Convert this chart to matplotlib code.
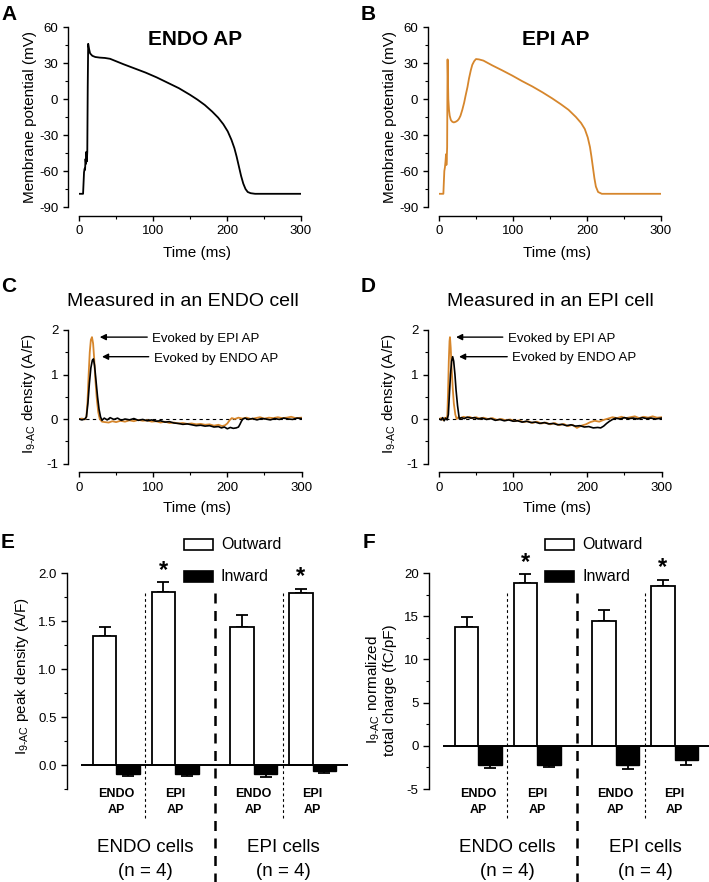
import numpy as np
import matplotlib
matplotlib.use("Agg")
import matplotlib.pyplot as plt
from matplotlib.patches import Rectangle
from matplotlib.ticker import MultipleLocator

W, H = 709, 882
ORANGE = "#d6862c"

# action potential waveforms (time ms, membrane potential mV)
ENDO_AP = [
    (0, -79), (5.5, -79), (6.0, -72), (6.8, -61), (7.6, -58), (8.2, -59), (8.8, -50),
    (9.4, -54), (10.0, -44), (10.6, -52), (11.2, -44), (11.8, 10), (12.4, 46), (13.5, 42),
    (15, 38), (18, 36), (22, 35), (28, 34.5), (35, 34.2), (42, 33.5), (50, 31.5), (60, 29),
    (75, 25.5), (90, 22), (105, 18), (120, 13.5), (135, 9), (150, 3.5), (160, -0.5),
    (170, -5), (180, -10.5), (188, -15.5), (195, -21), (201, -27), (206, -34), (210, -41),
    (213, -48), (216, -56), (219, -64), (222, -70.5), (225, -75), (228, -77.5),
    (232, -78.5), (238, -79), (250, -79), (300, -79),
]
EPI_AP = [
    (0, -79), (5.9, -79), (6.5, -70), (7.2, -60), (8.0, -57), (8.8, -52), (9.5, -46),
    (10.0, -55), (10.5, -50), (11.0, -40), (11.3, 0), (11.6, 33), (12.0, 20), (12.6, 0),
    (13.5, -9), (14.5, -14), (16, -17.5), (18, -19), (20, -19.5), (22.5, -19), (25, -18),
    (27, -16.5), (29, -14), (31.5, -9), (34, -3), (36, 3), (38.5, 10), (40.5, 17),
    (43, 24), (45, 28.5), (47.5, 31.5), (50, 33.3), (54, 33), (60, 32), (72, 28),
    (85, 24), (99, 19.5), (112, 15), (126, 10.5), (140, 5.5), (153, 0.5), (165, -4.5),
    (175, -9), (185, -15), (192, -20), (197, -25), (201, -32), (204, -40), (206, -48),
    (208, -57), (210, -66), (212, -73), (215, -77.5), (220, -79), (235, -79), (300, -79),
]

# I9-AC current traces (time ms, A/F)
C_ENDO = [
    (0, 0), (4, -0.02), (8, 0.0), (10, 0.05), (12, 0.35), (14, 0.8), (16, 1.15), (18, 1.32),
    (19.5, 1.35), (21, 1.2), (23, 0.85), (25, 0.5), (27, 0.22), (29, 0.05), (31, -0.03),
    (34, 0.02), (38, -0.02), (42, 0.03), (47, -0.01), (52, 0.02), (57, -0.03), (62, 0.0),
    (68, -0.02), (74, 0.01), (80, -0.03), (86, -0.01), (92, -0.04), (98, -0.02),
    (104, -0.05), (110, -0.04), (116, -0.07), (122, -0.06), (128, -0.09), (134, -0.1),
    (140, -0.12), (146, -0.11), (152, -0.13), (158, -0.15), (164, -0.14), (170, -0.16),
    (176, -0.15), (182, -0.18), (188, -0.17), (192, -0.2), (196, -0.18), (200, -0.22),
    (204, -0.19), (208, -0.21), (212, -0.2), (215, -0.18), (217, -0.12), (219, -0.05),
    (221, 0.0), (224, 0.02), (228, -0.01), (234, 0.01), (240, -0.02), (246, 0.01),
    (252, 0.0), (258, -0.02), (264, 0.01), (270, -0.01), (276, 0.02), (282, 0.0),
    (288, -0.01), (294, 0.02), (300, 0.01),
]
C_EPI = [
    (0, 0), (4, 0.01), (8, -0.01), (10, 0.05), (11.5, 0.4), (13, 1.0), (14.5, 1.5),
    (16, 1.78), (17.5, 1.84), (19, 1.7), (20.5, 1.35), (22, 0.9), (24, 0.45), (26, 0.15),
    (28, 0.0), (31, -0.06), (35, -0.07), (40, -0.08), (45, -0.05), (50, -0.07), (56, -0.04),
    (62, -0.06), (68, -0.03), (74, -0.05), (80, -0.02), (86, -0.04), (92, -0.03),
    (98, -0.06), (104, -0.05), (110, -0.08), (116, -0.06), (122, -0.09), (128, -0.08),
    (134, -0.1), (140, -0.09), (146, -0.11), (152, -0.1), (158, -0.12), (164, -0.11),
    (170, -0.13), (176, -0.12), (182, -0.15), (188, -0.13), (193, -0.16), (197, -0.14),
    (200, -0.1), (203, -0.03), (206, 0.02), (210, 0.0), (215, 0.03), (220, 0.01),
    (226, 0.03), (232, 0.0), (238, 0.02), (244, 0.04), (250, 0.01), (256, 0.03),
    (262, 0.02), (268, 0.04), (274, 0.02), (280, 0.03), (286, 0.05), (292, 0.02), (300, 0.03),
]
D_ENDO = [
    (0, 0), (3, -0.02), (5, 0.03), (7, -0.04), (9, 0.02), (11, -0.02), (12.6, 0.1),
    (14, 0.55), (15.5, 1.0), (17, 1.3), (18.4, 1.4), (19.8, 1.3), (21.5, 1.0), (23, 0.65),
    (25, 0.3), (27.4, 0.0), (30, 0.03), (34, 0.01), (38, 0.04), (43, 0.02), (48, 0.03),
    (53, 0.0), (58, 0.02), (64, -0.01), (70, 0.01), (76, -0.03), (82, -0.01), (88, -0.04),
    (94, -0.02), (100, -0.05), (106, -0.04), (112, -0.07), (118, -0.05), (124, -0.08),
    (130, -0.07), (136, -0.1), (142, -0.08), (148, -0.11), (154, -0.1), (160, -0.13),
    (166, -0.12), (172, -0.15), (178, -0.13), (184, -0.16), (190, -0.15), (196, -0.18),
    (202, -0.17), (208, -0.2), (214, -0.19), (218, -0.2), (222, -0.16), (226, -0.1),
    (230, -0.05), (234, -0.01), (238, 0.02), (244, 0.0), (250, 0.03), (256, 0.01),
    (262, 0.02), (268, 0.0), (274, 0.03), (280, 0.01), (286, 0.02), (292, 0.0), (300, 0.02),
]
D_EPI = [
    (0, 0), (3, 0.02), (6, -0.03), (8, 0.03), (10, 0.0), (11.2, 0.08), (12.2, 0.6),
    (13.2, 1.3), (14.2, 1.75), (14.8, 1.84), (15.8, 1.6), (17, 1.15), (18.5, 0.7),
    (20, 0.35), (22, 0.1), (23.8, 0.0), (26, 0.04), (29, 0.02), (33, 0.05), (37, 0.03),
    (41, 0.05), (45, 0.02), (50, 0.04), (55, 0.01), (60, 0.03), (66, 0.0), (72, 0.02),
    (78, -0.02), (84, 0.0), (90, -0.03), (96, -0.01), (102, -0.05), (108, -0.03),
    (114, -0.07), (120, -0.05), (126, -0.09), (132, -0.06), (138, -0.1), (144, -0.08),
    (150, -0.12), (156, -0.09), (162, -0.14), (168, -0.11), (174, -0.16), (180, -0.13),
    (186, -0.2), (192, -0.15), (198, -0.12), (204, -0.07), (210, -0.04), (216, -0.06),
    (222, -0.02), (228, 0.01), (234, 0.04), (240, 0.02), (246, 0.05), (252, 0.02),
    (258, 0.04), (264, 0.06), (270, 0.02), (276, 0.05), (282, 0.03), (288, 0.06),
    (294, 0.03), (300, 0.04),
]

# bar summaries: ENDO cell/ENDO AP, ENDO cell/EPI AP, EPI cell/ENDO AP, EPI cell/EPI AP
BAR_LABELS = [("ENDO", "AP"), ("EPI", "AP"), ("ENDO", "AP"), ("EPI", "AP")]
GROUP_LABELS = ["ENDO cells", "EPI cells"]
GROUP_N = ["(n = 4)", "(n = 4)"]

PEAK_OUT = [1.34, 1.80, 1.44, 1.79]
PEAK_OUT_ERR = [0.10, 0.11, 0.12, 0.04]
PEAK_IN = [-0.095, -0.095, -0.095, -0.065]
PEAK_IN_ERR = [0.015, 0.015, 0.03, 0.02]

CHARGE_OUT = [13.8, 18.9, 14.5, 18.5]
CHARGE_OUT_ERR = [1.1, 1.0, 1.2, 0.7]
CHARGE_IN = [-2.2, -2.2, -2.2, -1.7]
CHARGE_IN_ERR = [0.35, 0.3, 0.5, 0.5]

plt.rcParams["font.family"] = ["Liberation Sans", "DejaVu Sans"]
plt.rcParams["mathtext.fontset"] = "custom"
plt.rcParams["mathtext.rm"] = "Liberation Sans"
plt.rcParams["mathtext.it"] = "Liberation Sans:italic"
plt.rcParams["mathtext.bf"] = "Liberation Sans:bold"
plt.rcParams["axes.unicode_minus"] = False

fig = plt.figure(figsize=(W / 100, H / 100), dpi=100)
I9AC = r"I$_{\mathregular{9\text{-}AC}}$"


def pt(px):
    return px * 0.72


def px_axes(left, top, right, bottom):
    return fig.add_axes([left / W, 1 - bottom / H, (right - left) / W, (bottom - top) / H])


def ftext(x, y, s, **kw):
    return fig.text(x / W, 1 - y / H, s, **kw)


def style_axes(ax, left_off, bottom_off=None):
    ax.spines["top"].set_visible(False)
    ax.spines["right"].set_visible(False)
    ax.spines["left"].set_position(("outward", pt(left_off)))
    ax.spines["left"].set_linewidth(1.0)
    if bottom_off is None:
        ax.spines["bottom"].set_visible(False)
        ax.tick_params(axis="x", which="both", bottom=False, labelbottom=False)
    else:
        ax.spines["bottom"].set_position(("outward", pt(bottom_off)))
        ax.spines["bottom"].set_linewidth(1.0)
    ax.tick_params(which="major", direction="out", length=3.5, width=1.0,
                   labelsize=9.5, pad=3.5)
    ax.tick_params(which="minor", direction="out", length=2, width=0.8)
    ax.patch.set_visible(False)


def trace_axes(left, top, right, bottom, ylim, ymajor, yminor):
    ax = px_axes(left, top, right, bottom)
    style_axes(ax, 11, 8.5)
    ax.set_xlim(0, 300)
    ax.set_ylim(*ylim)
    ax.xaxis.set_major_locator(MultipleLocator(100))
    ax.xaxis.set_minor_locator(MultipleLocator(50))
    ax.yaxis.set_major_locator(MultipleLocator(ymajor))
    ax.yaxis.set_minor_locator(MultipleLocator(yminor))
    return ax


def plot_trace(ax, pts, color, lw=1.2):
    t, v = np.array(pts).T
    ax.plot(t, v, color=color, lw=lw, solid_joinstyle="round")


# A / B: action potentials
for x0, trace, color, title, title_x, letter in [
    (0, ENDO_AP, "k", "ENDO AP", 195.5, "A"),
    (360, EPI_AP, ORANGE, "EPI AP", 556, "B"),
]:
    ax = trace_axes(79 + x0, 27, 301 + x0, 207, (-90, 60), 30, 15)
    plot_trace(ax, trace, color, lw=1.3)
    ftext(1 + x0, 20, letter, fontsize=15, fontweight="bold", va="baseline")
    ftext(title_x, 45, title, fontsize=15, fontweight="bold", ha="center", va="baseline")
    ftext(30 + x0, 117, "Membrane potential (mV)", fontsize=11, rotation=90,
          ha="center", va="center")
    ftext(197 + x0, 257, "Time (ms)", fontsize=11, ha="center", va="baseline")

# C / D: evoked currents
for x0, endo, epi, title, title_x, letter, arrows, text_pos in [
    (0, C_ENDO, C_EPI, "Measured in an ENDO cell", 182.5, "C",
     [((28, 1.84), (92, 1.84)), ((31, 1.40), (94, 1.40))], [(152, 342), (154, 362)]),
    (360, D_ENDO, D_EPI, "Measured in an EPI cell", 550, "D",
     [((23, 1.84), (86, 1.84)), ((27, 1.40), (92, 1.40))], [(508, 342), (512, 360.5)]),
]:
    ax = trace_axes(79 + x0, 330, 301.5 + x0, 463.5, (-1, 2), 1, 0.5)
    ax.plot([0, 300], [0, 0], color="k", lw=0.8, ls=(0, (3, 3)))
    plot_trace(ax, epi, ORANGE, lw=1.3)
    plot_trace(ax, endo, "k", lw=1.2)
    for tip, tail in arrows:
        ax.annotate("", xy=tip, xytext=tail,
                    arrowprops=dict(arrowstyle="-|>", color="k", lw=1.0,
                                    mutation_scale=9, shrinkA=0, shrinkB=0))
    ftext(1 + x0, 292, letter, fontsize=15, fontweight="bold", va="baseline")
    ftext(title_x, 306, title, fontsize=14, ha="center", va="baseline")
    for (tx, ty), s in zip(text_pos, ["Evoked by EPI AP", "Evoked by ENDO AP"]):
        ftext(tx, ty, s, fontsize=9.5, va="baseline")
    ftext(29 + x0, 394, I9AC + " density (A/F)", fontsize=11, rotation=90,
          ha="center", va="center")
    ftext(197 + x0, 512, "Time (ms)", fontsize=11, ha="center", va="baseline")

# E / F: bar summaries
OUT_X = np.array([0.0, 2.5, 5.85, 8.35])
IN_X = OUT_X + 1.0


def bar_panel(x0, out_m, out_e, in_m, in_e, ylim, ymajor, yminor, fmt, star_y,
              letter, legend_x):
    ax = px_axes(81 + x0, 573, 348 + x0, 789)
    style_axes(ax, 14)
    ax.set_xlim(-1.0, 10.36)
    ax.set_ylim(*ylim)
    ax.yaxis.set_major_locator(MultipleLocator(ymajor))
    ax.yaxis.set_minor_locator(MultipleLocator(yminor))
    ax.yaxis.set_major_formatter(fmt)
    ax.tick_params(which="major", length=4.5, pad=3)
    ax.tick_params(which="minor", length=2.5)
    zeros = np.zeros(len(out_m))
    ax.bar(OUT_X, out_m, width=1.0, color="white", edgecolor="k", lw=1.3, zorder=2)
    ax.errorbar(OUT_X, out_m, yerr=[zeros, out_e], fmt="none", ecolor="k",
                elinewidth=1.3, capsize=4.5, capthick=1.3, zorder=1)
    ax.bar(IN_X, in_m, width=1.0, color="k", edgecolor="k", lw=1.0, zorder=2)
    ax.errorbar(IN_X, in_m, yerr=[in_e, zeros], fmt="none", ecolor="k",
                elinewidth=1.3, capsize=4.5, capthick=1.3, zorder=1)
    ax.axhline(0, color="k", lw=1.4, zorder=3)

    tr = ax.get_xaxis_transform()
    for xv in [1.72, 7.6]:
        ax.plot([xv, xv], [0.907, -0.134], transform=tr, clip_on=False, color="k",
                lw=0.8, ls=(0, (2.5, 2.5)))
    ax.plot([4.7, 4.7], [0.907, -0.45], transform=tr, clip_on=False, color="k",
            lw=1.8, ls=(0, (4, 3)))
    for i, sy in zip((1, 3), star_y):
        ax.text(OUT_X[i], sy, "*", fontsize=17, fontweight="bold",
                ha="center", va="center")
    for xc, (l1, l2) in zip((OUT_X + IN_X) / 2, BAR_LABELS):
        ax.text(xc, -0.021, l1, transform=tr, fontsize=9, fontweight="bold",
                ha="center", va="center")
        ax.text(xc, -0.095, l2, transform=tr, fontsize=9, fontweight="bold",
                ha="center", va="center")
    for gi, (gl, gn) in enumerate(zip(GROUP_LABELS, GROUP_N)):
        xc = (OUT_X[2 * gi] + IN_X[2 * gi + 1]) / 2
        ax.text(xc, -0.269, gl, transform=tr, fontsize=13.5, ha="center", va="center")
        ax.text(xc, -0.384, gn, transform=tr, fontsize=13.5, ha="center", va="center")

    for yb, fc, lab in [(539, "white", "Outward"), (571, "k", "Inward")]:
        fig.add_artist(Rectangle((legend_x / W, 1 - (yb + 11) / H), 29 / W, 11 / H,
                                 transform=fig.transFigure, facecolor=fc,
                                 edgecolor="k", lw=1.2))
        ftext(legend_x + 37, yb + 5.5, lab, fontsize=11.5, va="center")
    ftext(1 + x0, 548, letter, fontsize=15, fontweight="bold", va="baseline")
    return ax


bar_panel(0, PEAK_OUT, PEAK_OUT_ERR, PEAK_IN, PEAK_IN_ERR, (-0.25, 2.0), 0.5, 0.25,
          "{x:.1f}", (2.03, 1.96), "E", 184)
bar_panel(362, CHARGE_OUT, CHARGE_OUT_ERR, CHARGE_IN, CHARGE_IN_ERR, (-5, 20), 5, 2.5,
          "{x:.0f}", (21.2, 20.6), "F", 545)

ftext(22, 676, I9AC + " peak density (A/F)", fontsize=11,
      rotation=90, ha="center", va="center")
ftext(381, 690, I9AC + " normalized\ntotal charge (fC/pF)",
      fontsize=11, rotation=90, ha="center", va="center", multialignment="center",
      linespacing=1.05)

fig.savefig("out.png", dpi=100)
